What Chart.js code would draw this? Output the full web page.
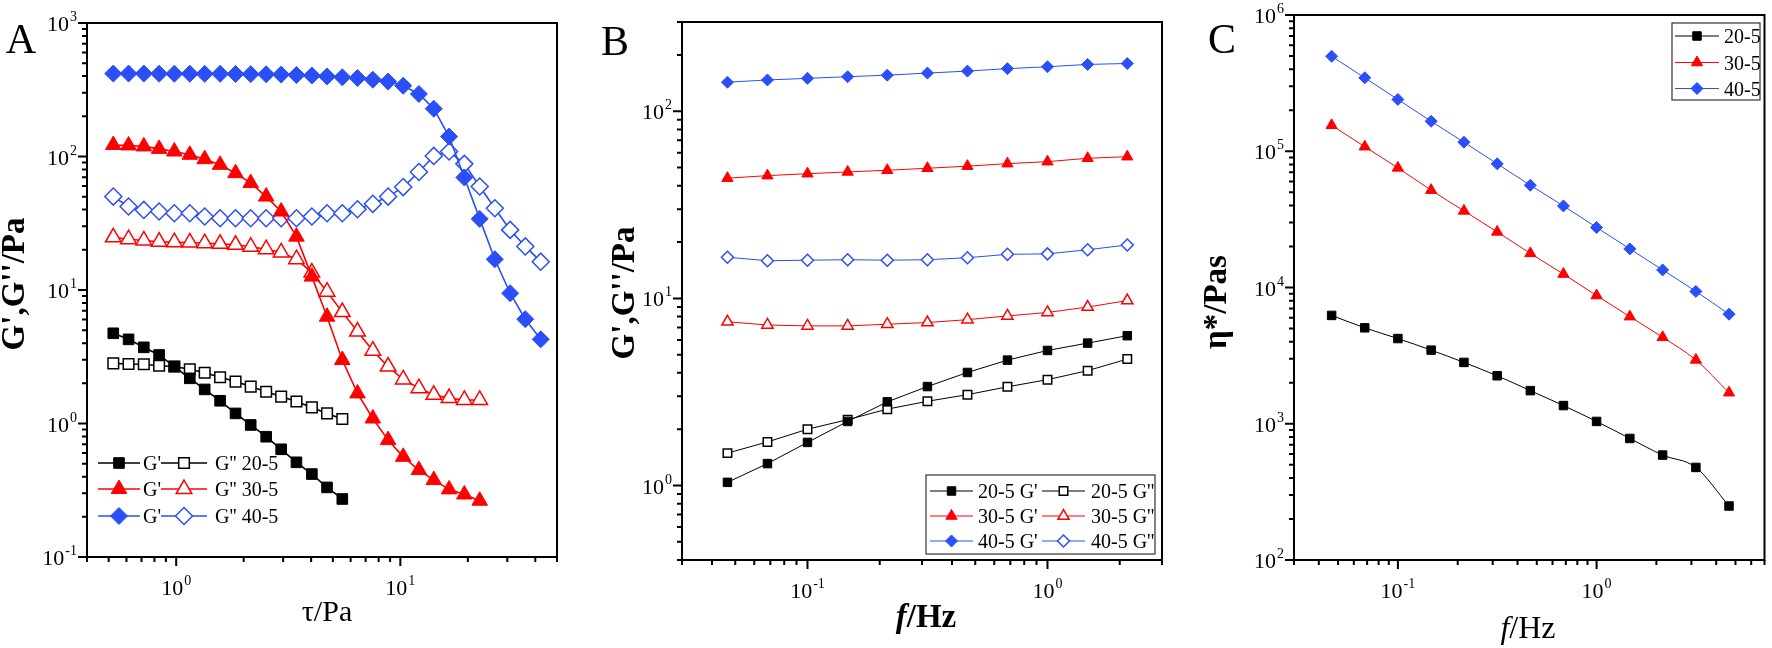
<!DOCTYPE html>
<html lang="en">
<head>
<meta charset="UTF-8">
<title>Rheology 20-5 / 30-5 / 40-5</title>
<script src="https://cdn.jsdelivr.net/npm/chart.js"></script>
<style>
  body { margin: 0; background: #fff; }
  #wrap { position: relative; width: 1772px; height: 648px; }
  #wrap canvas { position: absolute; left: 0; top: 0; }
</style>
</head>
<body>
<div id="wrap">
  <canvas id="chartA" width="1772" height="648"></canvas>
  <canvas id="chartB" width="1772" height="648"></canvas>
  <canvas id="chartC" width="1772" height="648"></canvas>
</div>
<script>
const sampleNames = ['20-5', '30-5', '40-5'];

// A: stress sweep, tau / Pa
const tauA = [0.524, 0.613, 0.717, 0.839, 0.981, 1.15, 1.34, 1.57, 1.84, 2.15, 2.52, 2.94, 3.44, 4.03, 4.71,
              5.51, 6.44, 7.54, 8.82, 10.3, 12.1, 14.1, 16.5, 19.3, 22.6, 26.4, 30.9, 36.1, 42.3];
const gp20A  = [4.74, 4.27, 3.72, 3.26, 2.67, 2.18, 1.80, 1.48, 1.19, 0.975, 0.796, 0.641, 0.512, 0.418, 0.332, 0.272];
const gpp20A = [2.82, 2.79, 2.78, 2.71, 2.67, 2.55, 2.40, 2.22, 2.06, 1.89, 1.73, 1.59, 1.46, 1.32, 1.19, 1.08];
const gp30A  = [122, 121, 119, 114, 109, 103, 95.5, 86.6, 75.0, 63.2, 50.1, 38.7, 25.1, 12.6, 6.31, 2.99, 1.68,
                1.09, 0.751, 0.563, 0.448, 0.377, 0.321, 0.294, 0.264];
const gpp30A = [24.8, 24.0, 23.5, 23.0, 22.8, 22.7, 22.4, 22.2, 21.8, 21.1, 20.2, 19.1, 17.0, 13.5, 9.72, 6.83,
                4.88, 3.51, 2.67, 2.14, 1.84, 1.64, 1.55, 1.50, 1.50];
const gp40A  = [418, 418, 418, 417, 417, 417, 416, 416, 415, 414, 413, 411, 408, 404, 398, 392, 387, 376, 364,
                339, 294, 228, 141, 69.7, 34.1, 17.0, 9.46, 6.04, 4.27];
const gpp40A = [50.1, 42.2, 39.8, 38.7, 37.6, 37.6, 35.5, 34.5, 34.5, 34.5, 34.5, 34.5, 34.5, 35.5, 37.6, 37.6,
                40.3, 44.2, 50.1, 59.0, 76.5, 101, 109, 88.1, 59.6, 41.0, 28.2, 21.2, 16.3];

// B: frequency sweep, f / Hz
const freqB  = [0.0464, 0.0681, 0.1, 0.147, 0.215, 0.316, 0.464, 0.681, 1.0, 1.47, 2.15];
const gp20B  = [1.04, 1.31, 1.70, 2.20, 2.80, 3.38, 4.02, 4.68, 5.27, 5.77, 6.32];
const gpp20B = [1.49, 1.71, 2.00, 2.25, 2.56, 2.82, 3.06, 3.37, 3.68, 4.11, 4.74];
const gp30B  = [43.9, 45.3, 46.4, 47.4, 48.4, 49.6, 50.9, 52.5, 53.8, 56.1, 57.2];
const gpp30B = [7.50, 7.21, 7.13, 7.13, 7.28, 7.43, 7.70, 8.06, 8.41, 8.99, 9.74];
const gp40B  = [143, 147, 150, 153, 156, 160, 164, 169, 173, 178, 180];
const gpp40B = [16.6, 15.9, 16.0, 16.1, 16.0, 16.1, 16.5, 17.2, 17.3, 18.2, 19.3];

// C: complex viscosity, Pa s
const freqC = [0.0464, 0.0681, 0.1, 0.147, 0.215, 0.316, 0.464, 0.681, 1.0, 1.47, 2.15, 3.16, 4.64];
const eta20 = [6240, 5060, 4220, 3470, 2820, 2250, 1750, 1360, 1040, 780, 589, 478, 249];
const eta30 = [155000, 108000, 75500, 51800, 36500, 25600, 17800, 12550, 8730, 6110, 4310, 2940, 1690];
const eta40 = [498000, 346000, 240000, 166000, 116500, 80900, 56300, 39700, 27600, 19200, 13460, 9360, 6370];

// decade exponents used for tick labels
const aXExp = [0, 1], aYExp = [-1, 0, 1, 2, 3];
const bXExp = [-1, 0], bYExp = [0, 1, 2];
const cXExp = [-1, 0], cYExp = [2, 3, 4, 5, 6];

const RED = '#ff0000', BLUE = '#2a4ff6', BLACK = '#000000';
const SERIF = '"Liberation Serif", "Times New Roman", Times, serif';
const W = 1772, H = 648;

function series(xs, ys, color, style, r, open, lw) {
    return {
        data: ys.map((y, i) => ({ x: xs[i], y: y })),
        borderColor: color,
        backgroundColor: color,
        borderWidth: lw,
        pointStyle: style,
        pointRadius: r,
        pointHoverRadius: r,
        pointBackgroundColor: open ? '#ffffff' : color,
        pointBorderColor: color,
        pointBorderWidth: open ? 1.5 : 1,
        tension: 0,
        fill: false
    };
}

function logTicks(min, max) {
    const out = [];
    for (let d = Math.floor(Math.log10(min)); d <= Math.ceil(Math.log10(max)); d++) {
        for (let m = 1; m <= 9; m++) {
            const v = m * Math.pow(10, d);
            if (v >= min * 0.999 && v <= max * 1.001) out.push({ v: v, major: m === 1 });
        }
    }
    return out;
}

function marker(ctx, style, x, y, r, fill, stroke, lw) {
    ctx.beginPath();
    if (style === 'rect') {
        const s = r * Math.SQRT1_2;
        ctx.rect(x - s, y - s, 2 * s, 2 * s);
    } else if (style === 'rectRot') {
        ctx.moveTo(x - r, y); ctx.lineTo(x, y - r); ctx.lineTo(x + r, y); ctx.lineTo(x, y + r);
        ctx.closePath();
    } else {
        ctx.moveTo(x, y - r); ctx.lineTo(x + 0.866 * r, y + 0.5 * r); ctx.lineTo(x - 0.866 * r, y + 0.5 * r);
        ctx.closePath();
    }
    ctx.fillStyle = fill; ctx.fill();
    ctx.strokeStyle = stroke; ctx.lineWidth = lw; ctx.stroke();
}

// text made of parts with different fonts, centred on x
function richText(ctx, parts, x, y) {
    let total = 0;
    parts.forEach(p => { ctx.font = p.f + ' ' + SERIF; p.w = ctx.measureText(p.t).width; total += p.w; });
    let cx = x - total / 2;
    ctx.textAlign = 'left';
    parts.forEach(p => { ctx.font = p.f + ' ' + SERIF; ctx.fillText(p.t, cx, y); cx += p.w; });
}

// "10" with a raised exponent
function pow10(ctx, e, x, y, align) {
    ctx.font = '22px ' + SERIF;
    const wb = ctx.measureText('10').width;
    ctx.font = '14px ' + SERIF;
    const ws = ctx.measureText(String(e)).width;
    const w = wb + 1 + ws;
    const x0 = align === 'right' ? x - w : x - w / 2;
    ctx.textAlign = 'left';
    ctx.textBaseline = 'alphabetic';
    ctx.font = '22px ' + SERIF;
    ctx.fillText('10', x0, y);
    ctx.font = '14px ' + SERIF;
    ctx.fillText(String(e), x0 + wb + 1, y - 10);
}

const decorById = {
    chartA: {
        letter: { t: 'A', x: 21, y: 53 },
        xExp: aXExp, yExp: aYExp,
        xTitle: { parts: [{ t: 'τ/Pa', f: '30px' }], x: 327, y: 621 },
        yTitle: { parts: [{ t: "G',G''/Pa", f: 'bold 33px' }], x: 15, y: 284 },
        labelY: 595,
        legend: { box: null, font: 20, entries: [] }
    },
    chartB: {
        letter: { t: 'B', x: 615, y: 55 },
        xExp: bXExp, yExp: bYExp,
        xTitle: { parts: [{ t: 'f', f: 'italic bold 33px' }, { t: '/Hz', f: 'bold 33px' }], x: 926, y: 627 },
        yTitle: { parts: [{ t: "G',G''/Pa", f: 'bold 33px' }], x: 625, y: 293 },
        labelY: 598,
        legend: { box: [926, 475, 1155, 554], font: 20, entries: [] }
    },
    chartC: {
        letter: { t: 'C', x: 1222, y: 53 },
        xExp: cXExp, yExp: cYExp,
        xTitle: { parts: [{ t: 'f', f: 'italic 32px' }, { t: '/Hz', f: '32px' }], x: 1528, y: 638 },
        yTitle: { parts: [{ t: 'η*/Pas', f: 'bold 33px' }], x: 1217, y: 302 },
        labelY: 598,
        legend: { box: [1672, 23, 1760, 100], font: 20, entries: [] }
    }
};

// legend layouts (rows of line+marker+text)
[463, 489, 516].forEach((y, i) => {
    decorById.chartA.legend.entries.push({ ds: 2 * i, x1: 98, x2: 140, y: y, text: "G'", tx: 143 });
    decorById.chartA.legend.entries.push({ ds: 2 * i + 1, x1: 161, x2: 207, y: y, text: "G'' " + sampleNames[i], tx: 215 });
});
[491, 516, 541].forEach((y, i) => {
    decorById.chartB.legend.entries.push({ ds: 2 * i, x1: 930, x2: 973, y: y, text: sampleNames[i] + " G'", tx: 978 });
    decorById.chartB.legend.entries.push({ ds: 2 * i + 1, x1: 1042, x2: 1085, y: y, text: sampleNames[i] + " G''", tx: 1091 });
});
[36, 62.5, 88.5].forEach((y, i) => {
    decorById.chartC.legend.entries.push({ ds: i, x1: 1675, x2: 1719, y: y, text: sampleNames[i], tx: 1724 });
});

const decor = {
    id: 'decor',
    afterDraw(chart) {
        const o = decorById[chart.canvas.id];
        const ctx = chart.ctx;
        const { left, top, right, bottom } = chart.chartArea;
        const xs = chart.scales.x, ys = chart.scales.y;
        ctx.save();
        ctx.fillStyle = BLACK;
        ctx.strokeStyle = BLACK;

        // frame
        ctx.lineWidth = 2;
        ctx.strokeRect(left, top, right - left, bottom - top);

        // ticks, outward on bottom and left
        ctx.lineWidth = 2;
        ctx.beginPath();
        logTicks(xs.min, xs.max).forEach(t => {
            const px = xs.getPixelForValue(t.v);
            ctx.moveTo(px, bottom); ctx.lineTo(px, bottom + (t.major ? 9 : 5));
        });
        logTicks(ys.min, ys.max).forEach(t => {
            const py = ys.getPixelForValue(t.v);
            ctx.moveTo(left, py); ctx.lineTo(left - (t.major ? 9 : 5), py);
        });
        ctx.stroke();

        // tick labels
        ctx.fillStyle = BLACK;
        o.xExp.forEach(e => pow10(ctx, e, xs.getPixelForValue(Math.pow(10, e)), o.labelY, 'center'));
        o.yExp.forEach(e => pow10(ctx, e, left - 10, ys.getPixelForValue(Math.pow(10, e)) + 8, 'right'));

        // axis titles
        ctx.textBaseline = 'alphabetic';
        richText(ctx, o.xTitle.parts, o.xTitle.x, o.xTitle.y);
        ctx.save();
        ctx.translate(o.yTitle.x, o.yTitle.y);
        ctx.rotate(-Math.PI / 2);
        ctx.textBaseline = 'middle';
        richText(ctx, o.yTitle.parts, 0, 0);
        ctx.restore();

        // panel letter
        ctx.font = '42px ' + SERIF;
        ctx.textAlign = 'center';
        ctx.textBaseline = 'alphabetic';
        ctx.fillText(o.letter.t, o.letter.x, o.letter.y);

        // legend
        const lg = o.legend;
        if (lg.box) {
            ctx.lineWidth = 1.2;
            ctx.strokeStyle = '#333';
            ctx.strokeRect(lg.box[0], lg.box[1], lg.box[2] - lg.box[0], lg.box[3] - lg.box[1]);
        }
        lg.entries.forEach(en => {
            const ds = chart.data.datasets[en.ds];
            ctx.strokeStyle = ds.borderColor;
            ctx.lineWidth = ds.borderWidth;
            ctx.beginPath();
            ctx.moveTo(en.x1, en.y); ctx.lineTo(en.x2, en.y);
            ctx.stroke();
            marker(ctx, ds.pointStyle, (en.x1 + en.x2) / 2, en.y, ds.pointRadius,
                   ds.pointBackgroundColor, ds.pointBorderColor, ds.pointBorderWidth);
            ctx.fillStyle = BLACK;
            ctx.font = lg.font + 'px ' + SERIF;
            ctx.textAlign = 'left';
            ctx.textBaseline = 'alphabetic';
            ctx.fillText(en.text, en.tx, en.y + 7);
        });
        ctx.restore();
    }
};

function makeChart(id, datasets, xr, yr, box) {
    return new Chart(document.getElementById(id), {
        type: 'line',
        data: { datasets: datasets },
        options: {
            responsive: false,
            animation: false,
            layout: { padding: { left: box[0], top: box[1], right: W - box[2], bottom: H - box[3] } },
            scales: {
                x: { type: 'logarithmic', min: xr[0], max: xr[1], display: false },
                y: { type: 'logarithmic', min: yr[0], max: yr[1], display: false }
            },
            plugins: { legend: { display: false }, tooltip: { enabled: false } }
        },
        plugins: [decor]
    });
}

makeChart('chartA', [
    series(tauA, gp20A, BLACK, 'rect', 7.5, false, 1.6),
    series(tauA, gpp20A, BLACK, 'rect', 7.5, true, 1.6),
    series(tauA, gp30A, RED, 'triangle', 9, false, 1.6),
    series(tauA, gpp30A, RED, 'triangle', 9, true, 1.6),
    series(tauA, gp40A, BLUE, 'rectRot', 8.5, false, 1.6),
    series(tauA, gpp40A, BLUE, 'rectRot', 8.5, true, 1.6)
], [0.4, 50], [0.1, 1000], [87, 23, 557, 557]);

makeChart('chartB', [
    series(freqB, gp20B, BLACK, 'rect', 6, false, 1),
    series(freqB, gpp20B, BLACK, 'rect', 6, true, 1),
    series(freqB, gp30B, RED, 'triangle', 6.5, false, 1),
    series(freqB, gpp30B, RED, 'triangle', 6.5, true, 1),
    series(freqB, gp40B, BLUE, 'rectRot', 6, false, 1),
    series(freqB, gpp40B, BLUE, 'rectRot', 6, true, 1)
], [0.03, 3], [0.4, 300], [682, 22, 1162, 560]);

const setC = [
    series(freqC, eta20, BLACK, 'rect', 6, false, 1),
    series(freqC, eta30, RED, 'triangle', 6.5, false, 1),
    series(freqC, eta40, BLUE, 'rectRot', 6, false, 1)
];
setC.forEach(ds => { ds.cubicInterpolationMode = 'monotone'; });
makeChart('chartC', setC, [0.03, 7], [100, 1e6], [1294, 15, 1768, 560]);
</script>
</body>
</html>
